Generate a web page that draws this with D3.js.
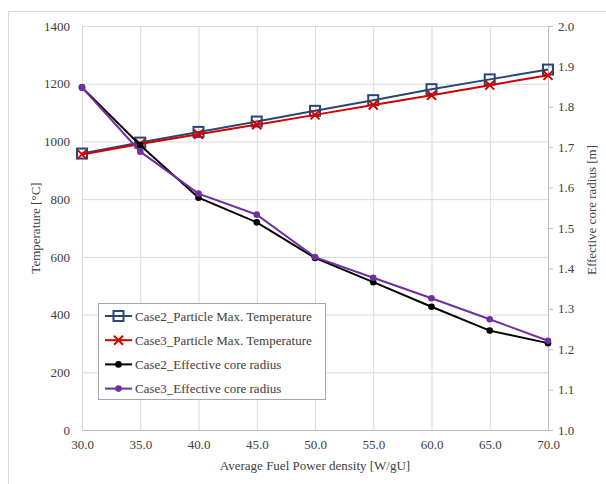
<!DOCTYPE html>
<html>
<head>
<meta charset="utf-8">
<script src="https://cdn.jsdelivr.net/npm/d3@7"></script>
<style>
  body { margin: 0; background: #fff; }
  svg { display: block; }
  svg text { font-family: "Liberation Serif", "DejaVu Serif", "Times New Roman", serif; }
</style>
</head>
<body>
<svg id="chart" width="606" height="484"></svg>
<script>
const powerDensity = [30, 35, 40, 45, 50, 55, 60, 65, 70];
const case2Temp = [958, 996, 1033, 1069, 1106, 1143, 1181, 1215, 1249];
const case3Temp = [955, 991, 1025, 1058, 1092, 1126, 1160, 1195, 1229];
const case2Radius = [1.848, 1.705, 1.575, 1.514, 1.426, 1.366, 1.305, 1.246, 1.215];
const case3Radius = [1.848, 1.689, 1.585, 1.533, 1.428, 1.377, 1.326, 1.274, 1.221];
const tempTicks = [0, 200, 400, 600, 800, 1000, 1200, 1400];
const radiusTicks = [1.0, 1.1, 1.2, 1.3, 1.4, 1.5, 1.6, 1.7, 1.8, 1.9, 2.0];
const xTicks = [30, 35, 40, 45, 50, 55, 60, 65, 70];
const legendNames = [
  "Case2_Particle Max. Temperature",
  "Case3_Particle Max. Temperature",
  "Case2_Effective core radius",
  "Case3_Effective core radius"
];

const plotL = 82, plotR = 548, plotT = 26, plotB = 430;
const textColor = "#404040";
const svg = d3.select("#chart");

// chart area border
svg.append("rect")
  .attr("x", 8.5).attr("y", 11.5)
  .attr("width", 620).attr("height", 500)
  .attr("fill", "none").attr("stroke", "#d9d9d9");

const x = d3.scaleLinear().domain([30, 70]).range([plotL, plotR]);
const yT = d3.scaleLinear().domain([0, 1400]).range([plotB, plotT]);
const yR = d3.scaleLinear().domain([1.0, 2.0]).range([plotB, plotT]);

// gridlines
svg.append("g")
  .attr("transform", `translate(0,${plotB})`)
  .call(d3.axisBottom(x).tickValues(xTicks).tickSize(-(plotB - plotT)).tickFormat(""))
  .call(g => g.select(".domain").remove())
  .call(g => g.selectAll("line").attr("stroke", "#d9d9d9"));

svg.append("g")
  .attr("transform", `translate(${plotL},0)`)
  .call(d3.axisLeft(yT).tickValues(tempTicks).tickSize(-(plotR - plotL)).tickFormat(""))
  .call(g => g.select(".domain").remove())
  .call(g => g.selectAll("line").attr("stroke", "#d9d9d9"));

function styleAxis(g) {
  g.attr("font-family", null).attr("font-size", 13);
  g.selectAll("text").attr("fill", textColor);
}

// axes
svg.append("g")
  .attr("transform", `translate(0,${plotB})`)
  .call(d3.axisBottom(x).tickValues(xTicks).tickSize(0).tickPadding(10).tickFormat(d3.format(".1f")))
  .call(g => g.select(".domain").attr("stroke", "#bfbfbf"))
  .call(styleAxis);

svg.append("g")
  .attr("transform", `translate(${plotL},0)`)
  .call(d3.axisLeft(yT).tickValues(tempTicks).tickSize(0).tickPadding(12).tickFormat(d3.format("d")))
  .call(g => g.select(".domain").remove())
  .call(styleAxis);

svg.append("g")
  .attr("transform", `translate(${plotR},0)`)
  .call(d3.axisRight(yR).tickValues(radiusTicks).tickSize(5).tickPadding(5).tickFormat(d3.format(".1f")))
  .call(g => g.select(".domain").attr("stroke", "#bfbfbf"))
  .call(g => g.selectAll("line").attr("stroke", "#bfbfbf"))
  .call(styleAxis);

// axis titles
svg.append("text")
  .attr("x", (plotL + plotR) / 2).attr("y", 470)
  .attr("text-anchor", "middle").attr("font-size", 13).attr("fill", textColor)
  .text("Average Fuel Power density [W/gU]");

svg.append("text")
  .attr("transform", `translate(40,${(plotT + plotB) / 2}) rotate(-90)`)
  .attr("text-anchor", "middle").attr("font-size", 13).attr("fill", textColor)
  .text("Temperature [°C]");

svg.append("text")
  .attr("transform", `translate(596,210) rotate(-90)`)
  .attr("text-anchor", "middle").attr("font-size", 13).attr("fill", textColor)
  .text("Effective core radius [m]");

// series
const series = [
  { values: case2Temp, y: yT, color: "#2b4575", marker: "square" },
  { values: case3Temp, y: yT, color: "#d00000", marker: "cross" },
  { values: case2Radius, y: yR, color: "#000000", marker: "dot" },
  { values: case3Radius, y: yR, color: "#7030a0", marker: "dot" }
];

function drawMarker(g, type, color, cx, cy) {
  if (type === "square") {
    g.append("rect")
      .attr("x", cx - 5).attr("y", cy - 5).attr("width", 10).attr("height", 10)
      .attr("fill", "none").attr("stroke", color).attr("stroke-width", 2);
  } else if (type === "cross") {
    g.append("path")
      .attr("d", `M${cx - 4.5},${cy - 4.5}L${cx + 4.5},${cy + 4.5}M${cx - 4.5},${cy + 4.5}L${cx + 4.5},${cy - 4.5}`)
      .attr("stroke", color).attr("stroke-width", 2).attr("fill", "none");
  } else {
    g.append("circle").attr("cx", cx).attr("cy", cy).attr("r", 3.3).attr("fill", color);
  }
}

series.forEach(s => {
  const line = d3.line()
    .x((d, i) => x(powerDensity[i]))
    .y(d => s.y(d));
  const g = svg.append("g");
  g.append("path")
    .attr("d", line(s.values))
    .attr("fill", "none")
    .attr("stroke", s.color)
    .attr("stroke-width", 2);
  s.values.forEach((v, i) => drawMarker(g, s.marker, s.color, x(powerDensity[i]), s.y(v)));
});

// legend
const legend = svg.append("g");
legend.append("rect")
  .attr("x", 98.5).attr("y", 303.5).attr("width", 227).attr("height", 96)
  .attr("fill", "#fff").attr("stroke", "#a6a6a6");

legendNames.forEach((name, i) => {
  const cy = 316 + i * 24.2;
  const g = legend.append("g");
  g.append("line")
    .attr("x1", 105).attr("x2", 132).attr("y1", cy).attr("y2", cy)
    .attr("stroke", series[i].color).attr("stroke-width", 2);
  drawMarker(g, series[i].marker, series[i].color, 118.5, cy);
  g.append("text")
    .attr("x", 135).attr("y", cy + 4.5)
    .attr("font-size", 13).attr("fill", textColor)
    .text(name);
});
</script>
</body>
</html>
